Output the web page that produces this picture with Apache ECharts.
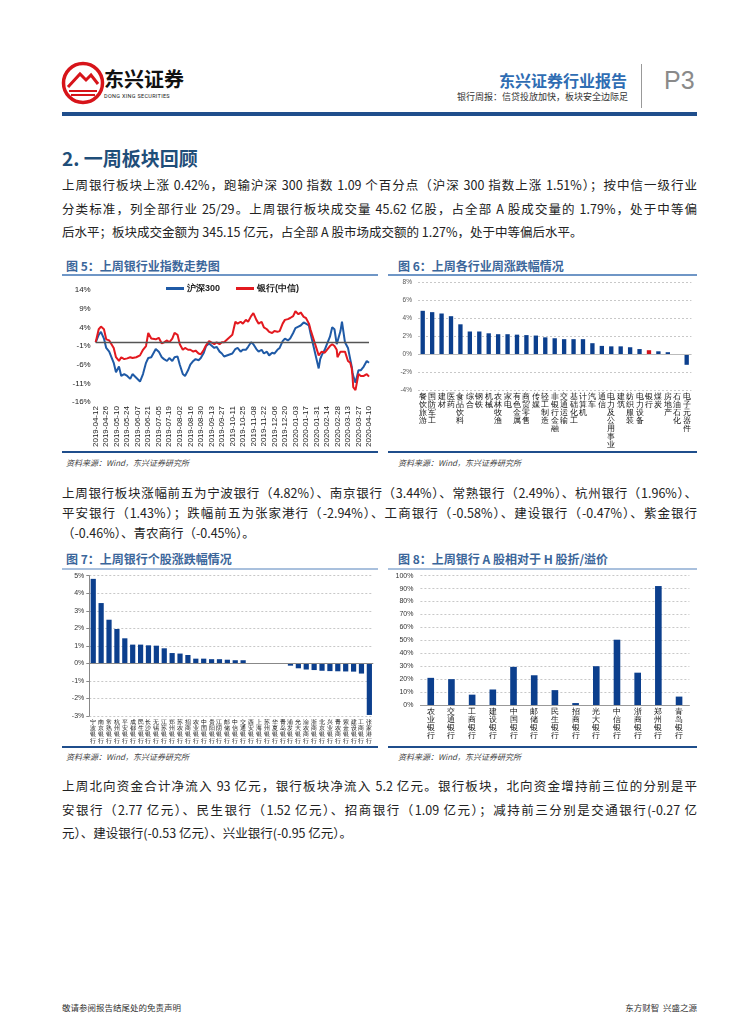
<!DOCTYPE html>
<html><head><meta charset="utf-8">
<script src="https://cdn.jsdelivr.net/npm/echarts@6/dist/echarts.min.js"></script>
<style>
html,body{margin:0;padding:0;background:#fff}
body{width:755px;height:1024px;position:relative;overflow:hidden;font-family:"Noto Sans CJK SC","Noto Sans",sans-serif;color:#222}
.abs{position:absolute}
.ln{position:absolute;left:62px;width:635px;white-space:nowrap;font-size:12.5px;height:23px;line-height:23px;text-align:justify;text-align-last:justify}
.ln.last{text-align-last:left}
.ftitle{position:absolute;font-size:12px;font-weight:bold;color:#3b669a;white-space:nowrap}
.src{position:absolute;font-size:8px;font-style:italic;color:#444;white-space:nowrap}
.chart{position:absolute}
</style></head><body>

<!-- header -->
<svg class="abs" style="left:60px;top:60px" width="46" height="46" viewBox="0 0 46 46">
  <circle cx="23" cy="23" r="19.5" fill="none" stroke="#d7141a" stroke-width="3.5"/>
  <path d="M8 27 L20 14 L26 20 L31 15 L38 24" fill="none" stroke="#d7141a" stroke-width="3"/>
  <path d="M9 31 L37 31 M11 35 L35 35" stroke="#d7141a" stroke-width="2"/>
</svg>
<div class="abs" style="left:104px;top:64px;font-size:20px;font-weight:bold;color:#111">东兴证券</div>
<div class="abs" style="left:104px;top:93px;font-size:5.5px;color:#222;letter-spacing:0.3px;font-family:Roboto,sans-serif">DONG XING SECURITIES</div>
<div class="abs" style="left:499px;top:68px;font-size:16px;font-weight:bold;color:#2f6db3">东兴证券行业报告</div>
<div class="abs" style="left:457px;top:90px;font-size:9px;color:#333">银行周报：信贷投放加快，板块安全边际足</div>
<div class="abs" style="left:641px;top:64px;width:1px;height:44px;background:#999"></div>
<div class="abs" style="left:664px;top:66px;font-size:25px;color:#8a8a8a;font-family:'Liberation Sans',sans-serif">P3</div>
<div class="abs" style="left:62px;top:112px;width:635px;height:4px;background:#1f4e8c"></div>

<div class="abs" style="left:62px;top:144px;font-size:19px;font-weight:bold;color:#1f4e79">2. 一周板块回顾</div>

<div class="ln" style="top:173px">上周银行板块上涨 0.42%，跑输沪深 300 指数 1.09 个百分点（沪深 300 指数上涨 1.51%）；按中信一级行业</div>
<div class="ln" style="top:196.5px">分类标准，列全部行业 25/29。上周银行板块成交量 45.62 亿股，占全部 A 股成交量的 1.79%，处于中等偏</div>
<div class="ln last" style="top:220px">后水平；板块成交金额为 345.15 亿元，占全部 A 股市场成交额的 1.27%，处于中等偏后水平。</div>

<!-- figure 5 / 6 frames -->
<div class="ftitle" style="left:66px;top:257px">图 5：上周银行业指数走势图</div>
<div class="abs" style="left:62px;top:274px;width:316px;height:1.5px;background:#6f96c6"></div>
<div class="abs" style="left:62px;top:451px;width:316px;height:2px;background:#1f4e8c"></div>
<div class="src" style="left:66px;top:457px">资料来源：Wind，东兴证券研究所</div>

<div class="ftitle" style="left:398px;top:257px">图 6：上周各行业周涨跌幅情况</div>
<div class="abs" style="left:388px;top:274px;width:309px;height:1.5px;background:#6f96c6"></div>
<div class="abs" style="left:388px;top:451px;width:309px;height:2px;background:#1f4e8c"></div>
<div class="src" style="left:398px;top:457px">资料来源：Wind，东兴证券研究所</div>

<div class="ln" style="top:481px">上周银行板块涨幅前五为宁波银行（4.82%）、南京银行（3.44%）、常熟银行（2.49%）、杭州银行（1.96%）、</div>
<div class="ln" style="top:501px">平安银行（1.43%）；跌幅前五为张家港行（-2.94%）、工商银行（-0.58%）、建设银行（-0.47%）、紫金银行</div>
<div class="ln last" style="top:521px">（-0.46%）、青农商行（-0.45%）。</div>

<!-- figure 7 / 8 frames -->
<div class="ftitle" style="left:66px;top:550px">图 7：上周银行个股涨跌幅情况</div>
<div class="abs" style="left:62px;top:568px;width:316px;height:1.5px;background:#a9c0dd"></div>
<div class="abs" style="left:62px;top:746px;width:316px;height:2px;background:#1f4e8c"></div>
<div class="src" style="left:66px;top:751px">资料来源：Wind，东兴证券研究所</div>

<div class="ftitle" style="left:398px;top:550px">图 8：上周银行 A 股相对于 H 股折/溢价</div>
<div class="abs" style="left:388px;top:568px;width:309px;height:1.5px;background:#a9c0dd"></div>
<div class="abs" style="left:388px;top:746px;width:309px;height:2px;background:#1f4e8c"></div>
<div class="src" style="left:398px;top:751px">资料来源：Wind，东兴证券研究所</div>

<div class="ln" style="top:774px">上周北向资金合计净流入 93 亿元，银行板块净流入 5.2 亿元。银行板块，北向资金增持前三位的分别是平</div>
<div class="ln" style="top:797.5px">安银行（2.77 亿元）、民生银行（1.52 亿元）、招商银行（1.09 亿元）；减持前三分别是交通银行(-0.27 亿</div>
<div class="ln last" style="top:821px">元）、建设银行(-0.53 亿元）、兴业银行(-0.95 亿元）。</div>

<!-- footer -->
<div class="abs" style="left:62px;top:1001px;font-size:8.5px;color:#333">敬请参阅报告结尾处的免责声明</div>
<div class="abs" style="left:600px;top:1001px;width:97px;text-align:right;font-size:8.5px;color:#333">东方财智&nbsp;&nbsp;兴盛之源</div>

<div id="c5" class="chart" style="left:62px;top:276px;width:316px;height:174px"></div>
<div id="c6" class="chart" style="left:388px;top:276px;width:310px;height:175px"></div>
<div id="c7" class="chart" style="left:62px;top:570px;width:316px;height:177px"></div>
<div id="c8" class="chart" style="left:388px;top:570px;width:310px;height:177px"></div>

<script>
// ---------- Figure 5 data ----------
const lineDates = [
 '2019-04-12','2019-04-16','2019-04-19','2019-04-23','2019-04-26','2019-04-30','2019-05-06','2019-05-09','2019-05-13','2019-05-16',
 '2019-05-20','2019-05-24','2019-05-28','2019-05-31','2019-06-05','2019-06-10','2019-06-14','2019-06-18','2019-06-21','2019-06-25',
 '2019-07-01','2019-07-05','2019-07-09','2019-07-12','2019-07-16','2019-07-19','2019-07-23','2019-07-26','2019-07-30','2019-08-02',
 '2019-08-06','2019-08-09','2019-08-13','2019-08-16','2019-08-20','2019-08-23','2019-08-27','2019-08-30','2019-09-03','2019-09-06',
 '2019-09-10','2019-09-12','2019-09-17','2019-09-20','2019-09-24','2019-09-27','2019-09-30','2019-10-11','2019-10-15','2019-10-18',
 '2019-10-22','2019-10-25','2019-10-29','2019-11-01','2019-11-05','2019-11-08','2019-11-12','2019-11-15','2019-11-19','2019-11-22',
 '2019-11-26','2019-11-29','2019-12-03','2019-12-06','2019-12-10','2019-12-13','2019-12-17','2019-12-20','2019-12-24','2019-12-27',
 '2019-12-31','2020-01-03','2020-01-07','2020-01-10','2020-01-14','2020-01-17','2020-01-21','2020-01-23','2020-02-03','2020-02-05',
 '2020-02-07','2020-02-11','2020-02-14','2020-02-18','2020-02-21','2020-02-24','2020-02-27','2020-02-28','2020-03-03','2020-03-05',
 '2020-03-09','2020-03-13','2020-03-16','2020-03-18','2020-03-19','2020-03-20','2020-03-23','2020-03-27','2020-03-30','2020-04-03',
 '2020-04-07','2020-04-10'];
const hs300 = [
 0, 2.0, 2.8, 1.0, -1.5, -2.5, -5.5, -8.0, -6.5, -9.0,
 -8.5, -9.0, -9.8, -8.5, -9.5, -10.5, -8.5, -5.5, -4.2, -4.0,
 -1.8, -2.5, -4.0, -4.5, -5.0, -4.2, -5.0, -4.0, -3.8, -6.0,
 -8.5, -9.0, -7.5, -6.0, -5.0, -4.5, -4.8, -4.2, -2.8, -1.0,
 -0.3, -0.5, -1.5, -1.2, -2.5, -3.0, -3.8, -3.0, -1.8, -1.5,
 -2.5, -2.0, -2.0, -1.2, 0.0, -0.5, -1.8, -2.5, -2.0, -3.0,
 -2.5, -3.5, -2.8, -3.0, -2.0, -1.5, 0.3, 1.0, 0.5, 1.0,
 2.5, 3.8, 4.2, 4.5, 5.3, 5.0, 4.5, 2.5, -7.0, -4.5,
 -3.5, -2.0, -0.5, 1.5, 4.0, 3.5, -0.5, -1.0, 3.0, 5.5,
 0.0, -1.5, -4.5, -6.5, -8.0, -9.0, -10.8, -7.5, -7.5, -6.5,
 -5.0, -5.5];
const bankIndex = [
 0, 3.5, 4.2, 3.5, 0.8, 0.5, -1.5, -4.0, -5.0, -4.0,
 -4.5, -4.3, -4.0, -4.2, -4.0, -3.5, -2.0, -1.0, 2.5, 1.0,
 0.8, 1.2, -0.3, 0.0, 0.5, 0.0, 1.0, 2.5, 2.0, -0.5,
 -2.0, -1.5, -2.0, -2.0, -2.5, -2.2, -3.0, -3.2, -2.0, -0.8,
 0.3, 0.0, -0.5, 0.0, -0.5, 0.0, 0.0, 2.0, 5.5, 5.0,
 5.5, 5.0, 6.0, 5.5, 7.0, 7.8, 6.0, 5.0, 5.5, 4.0,
 3.5, 2.8, 2.5, 3.0, 2.8, 3.0, 5.0, 6.0, 6.2, 6.5,
 7.0, 8.3, 7.5, 8.0, 6.8, 6.5, 5.0, 3.5, -3.5, -3.0,
 -2.5, -2.8, -2.0, -1.0, -0.5, -1.0, -2.0, -4.0, -2.5, -2.0,
 -2.5, -5.0, -5.5, -7.0, -9.0, -12.0, -12.8, -8.5, -9.0, -9.0,
 -8.5, -9.2];
const lineNames = ['沪深300', '银行(中信)'];
const line5Start = '2019-04-12', line5End = '2020-04-10';
const yTicks5 = [-16, -11, -6, -1, 4, 9, 14];

// ---------- Figure 6 data ----------
const industries = ['餐饮旅游','国防军工','建材','医药','食品饮料','综合','钢铁','机械','农林牧渔','家电',
 '有色金属','商贸零售','传媒','轻工制造','非银行金融','交通运输','基础化工','计算机','汽车','通信',
 '电力及公用事业','建筑','纺织服装','电力设备','银行','煤炭','房地产','石油石化','电子元器件'];
const industryChg = [4.8, 4.65, 4.5, 4.2, 3.3, 2.5, 2.5, 2.3, 2.2, 2.2,
 2.15, 2.1, 2.05, 1.85, 1.75, 1.65, 1.65, 1.65, 1.2, 0.9,
 0.85, 0.85, 0.75, 0.55, 0.42, 0.3, 0.2, -0.05, -1.2];
const highlightIndustry = '银行';

// ---------- Figure 7 data ----------
const banks7 = ['宁波银行','南京银行','常熟银行','杭州银行','平安银行','成都银行','民生银行','长沙银行','无锡银行','江苏银行',
 '郑州银行','苏农银行','招商银行','农业银行','中国银行','贵阳银行','江阴银行','邮储银行','中信银行','交通银行',
 '西安银行','上海银行','苏州银行','华夏银行','青岛银行','浦发银行','光大银行','渝农商行','浙商银行','北京银行',
 '兴业银行','青农商行','紫金银行','建设银行','工商银行','张家港行'];
const bankChg = [4.82, 3.44, 2.49, 1.96, 1.43, 1.07, 1.07, 1.03, 1.01, 0.86,
 0.59, 0.56, 0.48, 0.27, 0.27, 0.24, 0.24, 0.21, 0.18, 0.18,
 0, 0, 0, 0, 0, -0.13, -0.28, -0.35, -0.38, -0.42,
 -0.44, -0.45, -0.46, -0.47, -0.58, -2.94];

// ---------- Figure 8 data ----------
const banks8 = ['农业银行','交通银行','工商银行','建设银行','中国银行','邮储银行','民生银行','招商银行','光大银行','中信银行','浙商银行','郑州银行','青岛银行'];
const ahPremium = [21, 20, 8, 12, 29.5, 23, 11.5, 1.5, 30, 50.5, 25, 92, 6.5];

// ---------- rendering ----------
const DAY = 86400000;
const t0 = Date.parse(line5Start + 'T00:00:00Z');
const dayOf = s => Math.round((Date.parse(s + 'T00:00:00Z') - t0) / DAY);
const SHIFT = 1; // ticks sit on (multiple of 5) - 1, so plotted values are shifted by +1 and labels shifted back
const vert = v => v.split('').join('\n');
const BLUE = '#0c3f8d';

const c5 = echarts.init(document.getElementById('c5'));
c5.setOption({
  animation:false,
  legend:{top:3,left:99,itemWidth:18,itemHeight:3,itemGap:16,icon:'rect',
    data:[{name:lineNames[0],itemStyle:{color:'#1f5aa6'}},{name:lineNames[1],itemStyle:{color:'#e3191f'}}],
    textStyle:{fontSize:9,color:'#222',fontWeight:'bold',padding:[0,0,0,-2]}},
  grid:{left:33.7,right:9,top:14,bottom:43.7},
  xAxis:{type:'value',min:0,max:dayOf(line5End),interval:14,
    axisLine:{show:false},axisTick:{show:false},splitLine:{show:false},
    axisLabel:{rotate:90,fontSize:8,color:'#222',margin:4,
      formatter:v=>new Date(t0 + v*DAY).toISOString().slice(0,10)}},
  yAxis:{type:'value',min:yTicks5[0]+SHIFT,max:yTicks5[yTicks5.length-1]+SHIFT,interval:5,
    axisLine:{show:false},axisTick:{show:false},splitLine:{show:false},
    axisLabel:{fontSize:8,color:'#222',margin:5,formatter:v=>(v-SHIFT)+'%'}},
  series:[
    {name:lineNames[0],type:'line',symbol:'none',lineStyle:{width:2,color:'#1f5aa6'},itemStyle:{color:'#1f5aa6'},z:2,
     data:lineDates.map((d,i)=>[dayOf(d),hs300[i]+SHIFT]),
     markLine:{silent:true,symbol:'none',label:{show:false},lineStyle:{color:'#555',width:1.3,type:'solid'},data:[{yAxis:SHIFT}]}},
    {name:lineNames[1],type:'line',symbol:'none',lineStyle:{width:2,color:'#e3191f'},itemStyle:{color:'#e3191f'},z:3,
     data:lineDates.map((d,i)=>[dayOf(d),bankIndex[i]+SHIFT])}
  ]
});

const c6 = echarts.init(document.getElementById('c6'));
c6.setOption({
  animation:false,
  grid:{left:30,right:6.6,top:6,bottom:61},
  xAxis:{type:'category',data:industries,axisLine:{show:false,onZero:false},axisTick:{show:false},
    axisLabel:{interval:0,fontSize:8,lineHeight:8,color:'#111',margin:3,formatter:vert}},
  yAxis:{type:'value',min:-4,max:8,interval:2,axisLine:{show:false},axisTick:{show:false},
    axisLabel:{fontSize:6.5,color:'#555',margin:6,formatter:'{value}%'},
    splitLine:{lineStyle:{color:'#c8c8c8',type:[2,2],width:1}}},
  series:[{type:'bar',barWidth:'46%',
    data:industryChg.map((v,i)=>({value:v,itemStyle:{color:industries[i]===highlightIndustry?'#d0121b':BLUE}})),
    markLine:{silent:true,symbol:'none',label:{show:false},lineStyle:{color:'#bbb',width:1,type:'solid'},data:[{yAxis:0}]}}]
});

const c7 = echarts.init(document.getElementById('c7'));
c7.setOption({
  animation:false,
  grid:{left:27.3,right:4.7,top:5.7,bottom:31},
  xAxis:{type:'category',data:banks7,axisLine:{show:false,onZero:false},axisTick:{show:false},
    axisLabel:{interval:0,fontSize:6,lineHeight:6.3,color:'#111',margin:3,formatter:vert}},
  yAxis:{type:'value',min:-3,max:5,interval:1,
    axisLine:{show:true,lineStyle:{color:'#888',width:1}},axisTick:{show:true,length:3,lineStyle:{color:'#888'}},
    axisLabel:{fontSize:7,color:'#333',margin:5,formatter:'{value}%'},
    splitLine:{lineStyle:{color:'#c8c8c8',type:[2,2],width:1}}},
  series:[{type:'bar',barWidth:'66%',itemStyle:{color:BLUE},data:bankChg,
    markLine:{silent:true,symbol:'none',label:{show:false},lineStyle:{color:'#888',width:1,type:'solid'},data:[{yAxis:0}]}}]
});

const c8 = echarts.init(document.getElementById('c8'));
c8.setOption({
  animation:false,
  grid:{left:32.4,right:8.6,top:5.7,bottom:42},
  xAxis:{type:'category',data:banks8,axisLine:{show:true,lineStyle:{color:'#999',width:1}},axisTick:{show:false},
    axisLabel:{interval:0,fontSize:7.5,lineHeight:8,color:'#111',margin:3,formatter:vert}},
  yAxis:{type:'value',min:0,max:100,interval:10,axisLine:{show:false},axisTick:{show:false},
    axisLabel:{fontSize:7,color:'#333',margin:7,formatter:'{value}%'},
    splitLine:{lineStyle:{color:'#c8c8c8',type:[2,2],width:1}}},
  series:[{type:'bar',barWidth:'32%',itemStyle:{color:BLUE},data:ahPremium}]
});
</script>
</body></html>
